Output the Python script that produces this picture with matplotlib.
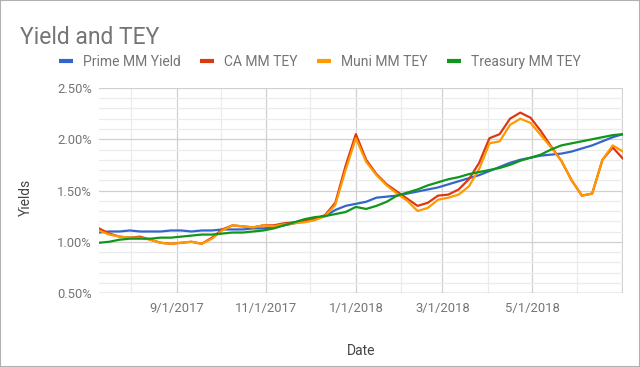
import matplotlib
matplotlib.use("Agg")
import matplotlib.pyplot as plt
import matplotlib.dates as mdates
from matplotlib.ticker import FuncFormatter, MultipleLocator
from matplotlib.patches import Rectangle
import pandas as pd

plt.rcParams['font.family'] = ['Roboto', 'DejaVu Sans']

# weekly observations, Jul 10 2017 .. Jul 2 2018
dates = pd.date_range("2017-07-10", periods=52, freq="7D")

prime = [1.09, 1.10, 1.10, 1.11, 1.10, 1.10, 1.10, 1.11, 1.11, 1.10,
         1.11, 1.11, 1.12, 1.12, 1.12, 1.13, 1.13, 1.14, 1.16, 1.18,
         1.21, 1.23, 1.25, 1.31, 1.35, 1.37, 1.39, 1.43, 1.44, 1.45,
         1.47, 1.49, 1.51, 1.53, 1.56, 1.59, 1.62, 1.65, 1.69, 1.73,
         1.77, 1.80, 1.82, 1.84, 1.85, 1.86, 1.88, 1.91, 1.94, 1.98,
         2.02, 2.05]

ca = [1.13, 1.08, 1.05, 1.04, 1.05, 1.02, 0.99, 0.98, 0.99, 1.00,
      0.98, 1.04, 1.12, 1.16, 1.15, 1.14, 1.16, 1.16, 1.18, 1.19,
      1.20, 1.22, 1.26, 1.38, 1.74, 2.05, 1.80, 1.66, 1.56, 1.49,
      1.42, 1.35, 1.38, 1.45, 1.46, 1.51, 1.61, 1.77, 2.01, 2.05,
      2.20, 2.26, 2.21, 2.08, 1.93, 1.79, 1.60, 1.45, 1.47, 1.80,
      1.92, 1.81]

muni = [1.11, 1.07, 1.05, 1.04, 1.04, 1.02, 0.99, 0.98, 0.99, 1.00,
        0.98, 1.03, 1.11, 1.16, 1.15, 1.14, 1.16, 1.15, 1.17, 1.18,
        1.19, 1.21, 1.25, 1.36, 1.70, 2.01, 1.78, 1.65, 1.55, 1.47,
        1.40, 1.30, 1.33, 1.41, 1.43, 1.46, 1.54, 1.71, 1.96, 1.98,
        2.14, 2.20, 2.16, 2.04, 1.92, 1.79, 1.60, 1.45, 1.47, 1.80,
        1.94, 1.88]

treasury = [0.99, 1.00, 1.02, 1.03, 1.03, 1.03, 1.04, 1.04, 1.05, 1.06,
            1.07, 1.07, 1.08, 1.09, 1.09, 1.10, 1.11, 1.13, 1.16, 1.19,
            1.22, 1.24, 1.25, 1.27, 1.29, 1.34, 1.32, 1.35, 1.39, 1.45,
            1.48, 1.51, 1.55, 1.58, 1.61, 1.63, 1.66, 1.68, 1.70, 1.72,
            1.75, 1.79, 1.82, 1.85, 1.90, 1.94, 1.96, 1.98, 2.00, 2.02,
            2.04, 2.05]

series = [("Prime MM Yield", prime, "#3366cc"),
          ("CA MM TEY", ca, "#dc3912"),
          ("Muni MM TEY", muni, "#ff9900"),
          ("Treasury MM TEY", treasury, "#109618")]

major_dates = pd.to_datetime(["2017-09-01", "2017-11-01", "2018-01-01",
                              "2018-03-01", "2018-05-01", "2018-07-01"])
major_labels = ["9/1/2017", "11/1/2017", "1/1/2018", "3/1/2018", "5/1/2018", ""]

fig = plt.figure(figsize=(6.4, 3.67), dpi=100)
ax = fig.add_axes([99 / 640, 1 - 293 / 367, 524 / 640, 205 / 367])

for name, vals, col in series:
    ax.plot(dates, vals, color=col, lw=1.6, label=name, solid_capstyle="round")

ax.set_xlim(dates[0], dates[-1])
ax.set_ylim(0.5, 2.5)

ax.set_xticks(major_dates)
ax.set_xticklabels(major_labels)
ax.xaxis.set_minor_locator(mdates.MonthLocator())
ax.yaxis.set_major_locator(MultipleLocator(0.5))
ax.yaxis.set_minor_locator(MultipleLocator(0.1))
ax.yaxis.set_major_formatter(FuncFormatter(lambda v, p: "%.2f%%" % v))

ax.grid(which="major", color="#d0d0d0", lw=0.9)
ax.grid(which="minor", color="#ebebeb", lw=0.9)
ax.set_axisbelow(True)
for s in ax.spines.values():
    s.set_visible(False)
ax.axhline(0.5, color="#bbbbbb", lw=1, zorder=1)
ax.tick_params(which="both", length=0, colors="#757575", labelsize=9.4)
ax.tick_params(axis="x", pad=6.5)
ax.tick_params(axis="y", pad=5)

fig.text(361 / 640, 1 - 351 / 367, "Date", color="#444444", fontsize=10,
         ha="center", va="center")
fig.text(26 / 640, 1 - 197 / 367, "Yields", color="#444444", fontsize=10,
         rotation=90, ha="center", va="center")

fig.text(20 / 640, 1 - 44 / 367, "Yield and TEY", fontsize=16.5,
         color="#757575", va="baseline", ha="left")

leg = fig.legend(loc="center", bbox_to_anchor=(0.5, 1 - 62 / 367),
                 ncol=4, frameon=False, fontsize=10, handlelength=1.0,
                 columnspacing=1.4, handletextpad=0.72, labelcolor="#757575")
for h in leg.get_lines():
    h.set_linewidth(3)
    h.set_solid_capstyle("butt")

fig.patches.append(Rectangle((0, 0), 1, 1, transform=fig.transFigure,
                             fill=False, edgecolor="#b0b0b0", lw=1.5))

fig.savefig("out.png", dpi=100)
